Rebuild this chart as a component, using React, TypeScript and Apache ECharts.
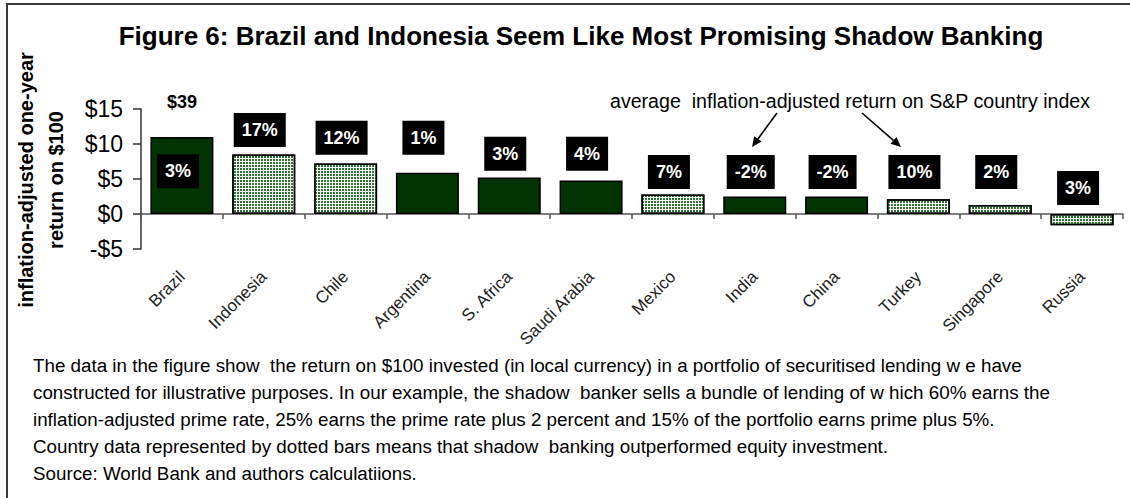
import React, { useEffect, useRef } from "react";
import * as echarts from "echarts";

// ---------- data ----------
const categories = [
  "Brazil", "Indonesia", "Chile", "Argentina", "S. Africa", "Saudi Arabia",
  "Mexico", "India", "China", "Turkey", "Singapore", "Russia",
];
// inflation-adjusted one-year return on $100 (shadow banking portfolio)
const shadowReturns = [11.0, 8.5, 7.2, 5.9, 5.2, 4.8, 2.8, 2.5, 2.5, 2.1, 1.3, -1.6];
// dotted = shadow banking outperformed equity investment
const outperformed = [false, true, true, false, false, false, true, false, false, true, true, true];
// average inflation-adjusted return on S&P country index
const equityReturnLabels = ["3%", "17%", "12%", "1%", "3%", "4%", "7%", "-2%", "-2%", "10%", "2%", "3%"];
// level (in $) at which each equity-return box sits
const equityLabelLevel = [6.1, 12.0, 10.9, 10.9, 8.6, 8.6, 6.0, 6.0, 6.0, 6.0, 6.0, 3.7];
const brazilTotalLabel = "$39";
const brazilTotalLevel = 16.0;
const yMin = -5;
const yMax = 15;
const yInterval = 5;

const titleText = "Figure 6: Brazil and Indonesia Seem Like Most Promising Shadow Banking";
const yTitle = "inflation-adjusted one-year\nreturn on $100";
const annotationText = "average  inflation-adjusted return on S&P country index";
const footnoteLines = [
  "The data in the figure show  the return on $100 invested (in local currency) in a portfolio of securitised lending w e have",
  "constructed for illustrative purposes. In our example, the shadow  banker sells a bundle of lending of w hich 60% earns the",
  "inflation-adjusted prime rate, 25% earns the prime rate plus 2 percent and 15% of the portfolio earns prime plus 5%.",
  "Country data represented by dotted bars means that shadow  banking outperformed equity investment.",
  "Source: World Bank and authors calculatiions.",
];

const FONT = "'Liberation Sans', Arial, Helvetica, sans-serif";
const DARK_GREEN = "#033303";

function arrow(x1: number, y1: number, x2: number, y2: number) {
  const dx = x2 - x1;
  const dy = y2 - y1;
  const len = Math.hypot(dx, dy);
  const ux = dx / len;
  const uy = dy / len;
  const hl = 10;
  const hw = 4.5;
  const bx = x2 - ux * hl;
  const by = y2 - uy * hl;
  return [
    { type: "line", shape: { x1, y1, x2: bx, y2: by }, style: { stroke: "#000", lineWidth: 1.6 }, silent: true },
    {
      type: "polygon",
      shape: { points: [[x2, y2], [bx - uy * hw, by + ux * hw], [bx + uy * hw, by - ux * hw]] },
      style: { fill: "#000" },
      silent: true,
    },
  ];
}

function buildOption() {
  const barData = shadowReturns.map((v, i) => ({
    value: v,
    itemStyle: outperformed[i]
      ? {
          color: "#ffffff",
          borderColor: "#000",
          borderWidth: 1.5,
          decal: {
            symbol: "rect",
            symbolSize: 1,
            color: "#2f722f",
            backgroundColor: "#f2f8f2",
            dashArrayX: [2, 1],
            dashArrayY: [2, 1],
            rotation: 0,
          },
        }
      : { color: DARK_GREEN, borderColor: "#000", borderWidth: 1.5 },
  }));

  const footnoteGraphics = footnoteLines.map((line, i) => ({
    type: "text",
    x: 33,
    y: 365 + i * 27,
    silent: true,
    style: {
      text: line,
      fill: "#000",
      font: `18.8px ${FONT}`,
      fontSize: 18.8,
      fontFamily: FONT,
      align: "left",
      textAlign: "left",
      verticalAlign: "middle",
      textVerticalAlign: "middle",
    },
  }));

  return {
    animation: false,
    backgroundColor: "#ffffff",
    grid: { left: 141, right: 7, top: 109, bottom: 249, containLabel: false },
    xAxis: {
      type: "category",
      data: categories,
      axisLine: { onZero: true, lineStyle: { color: "#555", width: 1.5 } },
      axisTick: { show: true, length: 5, inside: false, lineStyle: { color: "#555", width: 1.5 } },
      axisLabel: {
        interval: 0,
        rotate: 45,
        margin: 25,
        color: "#222",
        fontSize: 17,
        fontFamily: FONT,
      },
      splitLine: { show: false },
    },
    yAxis: {
      type: "value",
      min: yMin,
      max: yMax,
      interval: yInterval,
      axisLine: { show: true, lineStyle: { color: "#333", width: 1.5 } },
      axisTick: { show: true, length: 8, lineStyle: { color: "#333", width: 1.5 } },
      axisLabel: {
        margin: 18,
        color: "#000",
        fontSize: 23,
        fontFamily: FONT,
        formatter: (v: number) => (v < 0 ? `-$${Math.abs(v)}` : `$${v}`),
      },
      splitLine: { show: false },
    },
    series: [
      {
        type: "bar",
        name: "Shadow banking return",
        data: barData,
        barWidth: "77%",
        silent: true,
      },
      {
        type: "scatter",
        name: "S&P country index return",
        data: equityLabelLevel.map((v, i) => [i, v]),
        symbolSize: 1,
        itemStyle: { color: "rgba(0,0,0,0)", opacity: 1 },
        clip: false,
        silent: true,
        z: 5,
        label: {
          show: true,
          position: "inside",
          offset: [-4, 0],
          formatter: (p: any) => equityReturnLabels[p.dataIndex],
          backgroundColor: "#000",
          color: "#fff",
          opacity: 1,
          fontWeight: "bold",
          fontSize: 18,
          fontFamily: FONT,
          padding: [8, 8, 8, 8],
        },
      },
      {
        type: "scatter",
        name: "Brazil total",
        data: [[0, brazilTotalLevel]],
        symbolSize: 1,
        itemStyle: { color: "rgba(0,0,0,0)", opacity: 1 },
        clip: false,
        silent: true,
        label: {
          show: true,
          position: "inside",
          formatter: brazilTotalLabel,
          color: "#000",
          opacity: 1,
          fontWeight: "bold",
          fontSize: 18,
          fontFamily: FONT,
        },
      },
    ],
    graphic: [
      {
        type: "polyline",
        silent: true,
        shape: { points: [[7, 498], [7, 4], [1130, 4]] },
        style: { stroke: "#3a3a3a", lineWidth: 2, fill: "none" },
      },
      {
        type: "text",
        x: 581,
        y: 36,
        silent: true,
        style: {
          text: titleText,
          fill: "#000",
          font: `bold 26px ${FONT}`,
          fontSize: 26,
          fontWeight: "bold",
          fontFamily: FONT,
          align: "center",
          textAlign: "center",
          verticalAlign: "middle",
          textVerticalAlign: "middle",
        },
      },
      {
        type: "text",
        x: 41,
        y: 180,
        rotation: Math.PI / 2,
        silent: true,
        style: {
          text: yTitle,
          fill: "#000",
          font: `bold 20px ${FONT}`,
          fontSize: 20,
          fontWeight: "bold",
          fontFamily: FONT,
          lineHeight: 30,
          align: "center",
          textAlign: "center",
          verticalAlign: "middle",
          textVerticalAlign: "middle",
        },
      },
      {
        type: "text",
        x: 610,
        y: 101,
        silent: true,
        style: {
          text: annotationText,
          fill: "#000",
          font: `19.6px ${FONT}`,
          fontSize: 19.6,
          fontFamily: FONT,
          align: "left",
          textAlign: "left",
          verticalAlign: "middle",
          textVerticalAlign: "middle",
        },
      },
      ...arrow(777, 113, 752, 147),
      ...arrow(862, 113, 901, 147),
      ...footnoteGraphics,
    ],
  };
}

export default function App() {
  const ref = useRef<HTMLDivElement>(null);
  useEffect(() => {
    document.body.style.margin = "0";
    if (!ref.current) return;
    const chart = echarts.init(ref.current, null, { renderer: "svg" });
    chart.setOption(buildOption() as any);
    return () => {
      chart.dispose();
    };
  }, []);
  return <div ref={ref} style={{ width: 1130, height: 498, background: "#fff" }} />;
}
